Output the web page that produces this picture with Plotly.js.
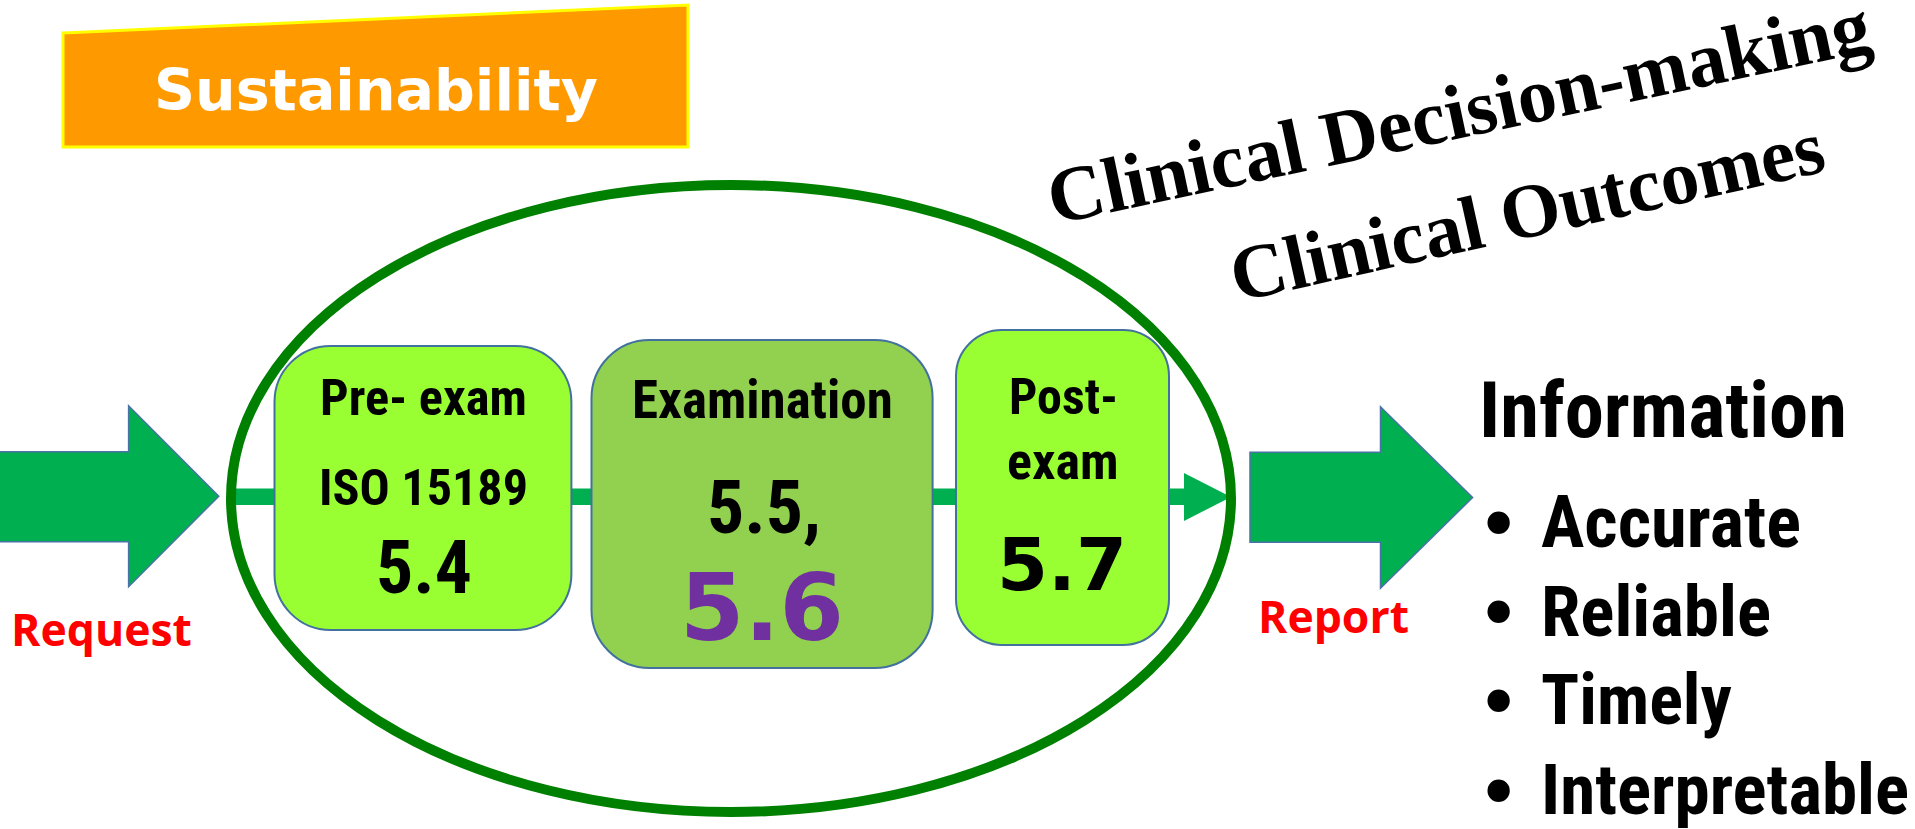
<!DOCTYPE html>
<html>
<head>
<meta charset="utf-8">
<script src="https://cdn.plot.ly/plotly-3.0.1.min.js"></script>
<style>html,body{margin:0;padding:0;background:#fff;}#chart{width:1915px;height:829px;}</style>
</head>
<body>
<div id="chart"></div>
<script>
// ---- content ----
const bannerLabel = ["Sustainability"];
const outcomeLines = ["Clinical Decision-making", "Clinical Outcomes"];
const preExamLines = ["Pre- exam", "ISO 15189", "5.4"];
const examLines = ["Examination", "5.5,", "5.6"];
const postExamLines = ["Post-", "exam", "5.7"];
const flowLabels = ["Request", "Report"];
const infoTitle = ["Information"];
const infoQualities = ["Accurate", "Reliable", "Timely", "Interpretable"];

// ---- styling ----
const NARROW = "'Liberation Sans Narrow', 'Arial Narrow', 'Roboto Condensed', 'Open Sans Condensed', 'DejaVu Sans Condensed', 'DejaVu Sans', sans-serif";
const BLACKF = "'Arial Black', 'DejaVu Sans', sans-serif";
const SERIF = "'Liberation Serif', 'Times New Roman', serif";
const HUMAN = "'Open Sans', Calibri, sans-serif";
const ARROW_GREEN = "#00B050";
const OUTLINE = "#4A72A6";

const cv = document.createElement('canvas').getContext('2d');
function fit(text, family, targetW, maxSize) {
  cv.font = `bold ${maxSize}px ${family}`;
  const w = cv.measureText(text).width || targetW;
  return Math.min(maxSize, maxSize * targetW / w);
}

function rrect(x0, y0, x1, y1, r) {
  const k = 0.552 * r;
  return `M${x0 + r},${y0} L${x1 - r},${y0} C${x1 - r + k},${y0} ${x1},${y0 + r - k} ${x1},${y0 + r} ` +
         `L${x1},${y1 - r} C${x1},${y1 - r + k} ${x1 - r + k},${y1} ${x1 - r},${y1} ` +
         `L${x0 + r},${y1} C${x0 + r - k},${y1} ${x0},${y1 - r + k} ${x0},${y1 - r} ` +
         `L${x0},${y0 + r} C${x0},${y0 + r - k} ${x0 + r - k},${y0} ${x0 + r},${y0} Z`;
}
function blockArrow(xs, xh, xt, ys0, ys1, yh0, yh1) {
  const yc = (yh0 + yh1) / 2;
  return `M${xs},${ys0} L${xh},${ys0} L${xh},${yh0} L${xt},${yc} L${xh},${yh1} L${xh},${ys1} L${xs},${ys1} Z`;
}

const shapes = [];
shapes.push({type: 'path', path: 'M63,33 L688,5 L688,147 L63,147 Z',
  fillcolor: '#FF9900', line: {color: '#FFFF00', width: 3}});
shapes.push({type: 'path', path: blockArrow(-6, 128.6, 218.8, 451.7, 541.7, 405.7, 586.7),
  fillcolor: ARROW_GREEN, line: {color: OUTLINE, width: 1.5}});
shapes.push({type: 'path', path: blockArrow(1250, 1380.5, 1472.6, 452.3, 542.3, 406.7, 588.3),
  fillcolor: ARROW_GREEN, line: {color: OUTLINE, width: 1.5}});
shapes.push({type: 'path', path: 'M230,488.5 L1184,488.5 L1184,473 L1231,497 L1184,521 L1184,505 L230,505 Z',
  fillcolor: ARROW_GREEN, line: {width: 0}});
shapes.push({type: 'path', path: rrect(274.5, 346, 571.4, 630, 56), fillcolor: '#99FF33', line: {color: '#41719C', width: 2}});
shapes.push({type: 'path', path: rrect(591.5, 340, 932.6, 668, 58), fillcolor: '#92D050', line: {color: '#41719C', width: 2}});
shapes.push({type: 'path', path: rrect(956, 330, 1169, 645, 46), fillcolor: '#99FF33', line: {color: '#41719C', width: 2}});
shapes.push({type: 'circle', x0: 231, x1: 1231, y0: 185, y1: 812, line: {color: '#008000', width: 10}, fillcolor: 'rgba(0,0,0,0)'});

function ann(text, x, y, size, family, color, extra) {
  return Object.assign({x: x, y: y, xref: 'x', yref: 'y', text: text, showarrow: false,
    xanchor: 'center', yanchor: 'middle',
    font: {family: family, size: size, color: color, weight: 'bold'}}, extra || {});
}
// text placed by (centre x, cap-middle y, target width, max size)
function txt(text, x, y, w, maxSize, family, color, extra) {
  return ann(text, x, y, fit(text, family, w, maxSize), family, color, extra);
}

const annotations = [];
annotations.push(txt(bannerLabel[0], 376, 89.5, 444, 61, BLACKF, '#FFFFFF'));
annotations.push(txt(outcomeLines[0], 1458, 111, 839, 90, SERIF, '#000000', {textangle: -12}));
annotations.push(txt(outcomeLines[1], 1527, 211, 606, 90, SERIF, '#000000', {textangle: -12.5}));

annotations.push(txt(preExamLines[0], 423, 397, 207, 53, NARROW, '#000'));
annotations.push(txt(preExamLines[1], 423, 488, 209, 52, NARROW, '#000'));
annotations.push(txt(preExamLines[2], 424, 568, 96, 79, NARROW, '#000'));

annotations.push(txt(examLines[0], 762, 400, 262, 53, NARROW, '#000'));
annotations.push(txt(examLines[1], 764, 507.5, 114, 76, NARROW, '#000'));
annotations.push(txt(examLines[2], 762, 608, 164, 102, BLACKF, '#7030A0'));

annotations.push(txt(postExamLines[0], 1063, 396.5, 109, 52, NARROW, '#000'));
annotations.push(txt(postExamLines[1], 1062, 461, 112, 52, NARROW, '#000'));
annotations.push(txt(postExamLines[2], 1062, 564, 130, 80, BLACKF, '#000'));

annotations.push(txt(flowLabels[0], 101, 628, 181, 46, HUMAN, '#FF0000'));
annotations.push(txt(flowLabels[1], 1333, 615, 151, 46, HUMAN, '#FF0000'));

annotations.push(txt(infoTitle[0], 1477, 410, 368, 81, NARROW, '#000', {xanchor: 'left'}));
const rowY0 = 522, rowStep = 89.2;
const qualW = [260, 230, 191, 368];
infoQualities.forEach(function (q, i) {
  const y = rowY0 + i * rowStep;
  annotations.push(ann('\u2022', 1498, y, 78, "'Liberation Sans', Arial, sans-serif", '#000'));
  annotations.push(txt(q, 1539, y, qualW[i], 74, NARROW, '#000', {xanchor: 'left'}));
});

const layout = {
  width: 1915, height: 829,
  margin: {l: 0, r: 0, t: 0, b: 0, pad: 0},
  paper_bgcolor: '#FFFFFF', plot_bgcolor: '#FFFFFF',
  showlegend: false,
  xaxis: {range: [0, 1915], visible: false, fixedrange: true},
  yaxis: {range: [829, 0], visible: false, fixedrange: true},
  shapes: shapes,
  annotations: annotations
};

Plotly.newPlot('chart', [{x: [], y: [], type: 'scatter', mode: 'markers', hoverinfo: 'skip'}], layout,
  {displayModeBar: false, staticPlot: true});
</script>
</body>
</html>
